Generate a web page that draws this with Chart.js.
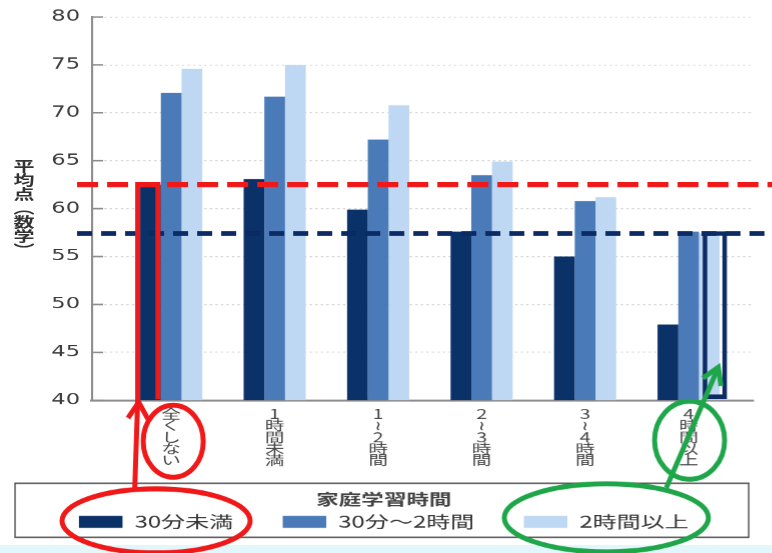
<!DOCTYPE html>
<html lang="ja">
<head>
<meta charset="utf-8">
<title>家庭学習時間別 平均点（数学）</title>
<script src="https://cdn.jsdelivr.net/npm/chart.js@4.4.1/dist/chart.umd.min.js"></script>
<style>
  html, body { margin: 0; padding: 0; background: #fff; }
  body { position: relative; width: 772px; height: 553px; overflow: hidden; }
  .floor { position: absolute; left: 0; right: 0; bottom: 0; height: 8px; background: #e2f7fb; }
  /* the chart is laid out 1.5x narrower and then widened, giving the broad lettering */
  #stage { position: absolute; left: 0; top: 0; width: 515px; height: 553px; transform: scaleX(1.5); transform-origin: 0 0; }
  #stage canvas { display: block; }
  .y-title { position: absolute; left: 9px; top: 159px; margin: 0; writing-mode: vertical-rl; text-orientation: mixed;
             font: bold 14px 'Noto Sans CJK JP', sans-serif; color: #333; line-height: 1; }
</style>
</head>
<body>
<div class="floor"></div>
<div id="stage">
  <canvas id="chart" width="515" height="553"></canvas>
  <div class="y-title" id="yTitle"></div>
</div>
<script>
// 家庭学習時間（カテゴリ）と学習時間帯ごとの数学の平均点
const categories = ['全くしない', '1時間未満', '1〜2時間', '2〜3時間', '3〜4時間', '4時間以上'];
const seriesNames = ['30分未満', '30分～2時間', '2時間以上'];
const under30min    = [62.5, 63.1, 59.9, 57.6, 55.0, 47.9];
const from30minTo2h = [72.1, 71.7, 67.2, 63.5, 60.8, 57.6];
const over2h        = [74.6, 75.0, 70.8, 64.9, 61.2, 57.4];
const yTicks = [40, 45, 50, 55, 60, 65, 70, 75, 80];
const legendTitle = '家庭学習時間';
const yTitle = '平均点（数学）';

document.getElementById('yTitle').textContent = yTitle;

const SX = 1.5;                       // horizontal widening applied to #stage
const CJK = "'Noto Sans CJK JP', 'DejaVu Sans', sans-serif";
const COLORS = ['#0b3169', '#4a7ab8', '#bed7f2'];
const RED = '#f01919', GREEN = '#1fa64a', NAVY = '#0c2a63';

// category names are set one character per line; the wave dash turns upright
const stacked = label => Array.from(label).map(ch => (ch === '〜' ? '≀' : ch));

const seriesValues = [under30min, from30minTo2h, over2h];
const datasets = seriesNames.map((name, s) => ({
  label: name,
  data: seriesValues[s].map((v, i) => ({ x: i, y: v })),
  backgroundColor: COLORS[s],
  borderWidth: 0,
  categoryPercentage: 0.6,
  barPercentage: 1.0
}));

function ellipse(ctx, cx, cy, rx, ry, color) {
  ctx.beginPath();
  ctx.ellipse(cx, cy, rx, ry, 0, 0, Math.PI * 2);
  ctx.strokeStyle = color;
  ctx.lineWidth = 5;
  ctx.stroke();
}

function arrowHead(ctx, fromX, fromY, tipX, tipY, color) {
  const ang = Math.atan2(fromY - tipY, fromX - tipX);
  const len = 19, spread = 0.55;
  ctx.beginPath();
  ctx.moveTo(tipX + len * Math.cos(ang - spread), tipY + len * Math.sin(ang - spread));
  ctx.lineTo(tipX, tipY);
  ctx.lineTo(tipX + len * Math.cos(ang + spread), tipY + len * Math.sin(ang + spread));
  ctx.strokeStyle = color;
  ctx.lineWidth = 5;
  ctx.lineJoin = 'miter';
  ctx.stroke();
}

function dashedLine(ctx, py, x0, x1, color, dash) {
  ctx.save();
  ctx.setLineDash(dash);
  ctx.strokeStyle = color;
  ctx.lineWidth = 5;
  ctx.beginPath();
  ctx.moveTo(x0, py);
  ctx.lineTo(x1, py);
  ctx.stroke();
  ctx.restore();
}

// inner axis ticks, legend frame, guide lines and hand-drawn style callouts
const callouts = {
  id: 'callouts',
  afterDraw(chart) {
    const { ctx, chartArea: area, scales: { x, y }, legend } = chart;
    const X = v => v * SX;
    const floor = area.bottom;
    ctx.save();
    ctx.scale(1 / SX, 1);            // page pixels, so strokes stay even once widened

    ctx.strokeStyle = '#8d8d8d';
    ctx.lineWidth = 1.5;
    y.ticks.forEach(t => {
      const py = y.getPixelForValue(t.value);
      ctx.beginPath();
      ctx.moveTo(X(area.left), py);
      ctx.lineTo(X(area.left) + 11, py);
      ctx.stroke();
    });

    ctx.strokeStyle = '#4d4d4d';
    ctx.lineWidth = 1.4;
    ctx.strokeRect(X(legend.left), legend.top - 3.5, X(legend.right) - X(legend.left) - 4, 54);

    const low = chart.getDatasetMeta(0).data[0];
    const high = chart.getDatasetMeta(2).data[5];
    const pageRight = X(chart.width);
    const guideStart = X(area.left) - 15;

    dashedLine(ctx, low.y, guideStart, pageRight, RED, [21, 9]);
    dashedLine(ctx, high.y, guideStart, pageRight, NAVY, [15, 9]);

    const boxes = legend.legendHitBoxes;
    const item = i => ({ cx: X(boxes[i].left + boxes[i].width / 2), cy: boxes[i].top + boxes[i].height / 2 });
    const labelY = floor + 41;

    // 全くしない / 30分未満
    const redItem = item(0);
    const redTop = redItem.cy - 33;
    const l = X(low.x - low.width / 2) - 2.5;
    const r = X(low.x + low.width / 2) - 3;
    ctx.strokeStyle = RED;
    ctx.lineWidth = 5;
    ctx.lineJoin = 'miter';
    ctx.beginPath();
    ctx.moveTo(r, floor - 1);
    ctx.lineTo(r, low.y);
    ctx.lineTo(l, low.y);
    ctx.lineTo(l, floor);
    ctx.lineTo(l - 3, redTop + 2);
    ctx.stroke();
    arrowHead(ctx, l - 3, redTop, l + 1, floor + 2, RED);
    ellipse(ctx, X(x.getPixelForValue(0)) + 2, labelY, 30, 36, RED);
    ellipse(ctx, redItem.cx, redItem.cy - 1, 94, 32, RED);

    // 4時間以上 / 2時間以上
    ctx.strokeStyle = NAVY;
    ctx.lineWidth = 4.5;
    const hl = X(high.x - high.width / 2) + 6;
    const hr = X(high.x + high.width / 2) + 5;
    ctx.strokeRect(hl, high.y, hr - hl, floor - 3.5 - high.y);

    const greenItem = item(2);
    ellipse(ctx, X(x.getPixelForValue(5)) + 1, labelY - 1, 35, 39, GREEN);
    ellipse(ctx, greenItem.cx, greenItem.cy - 4, 102, 34, GREEN);
    const sx = greenItem.cx + 60, sy = greenItem.cy - 34;
    const tx = X(high.x) + 9, ty = floor - 33;
    ctx.strokeStyle = GREEN;
    ctx.lineWidth = 5;
    ctx.beginPath();
    ctx.moveTo(sx, sy);
    ctx.lineTo(tx, ty);
    ctx.stroke();
    arrowHead(ctx, sx, sy, tx, ty, GREEN);

    ctx.restore();
  }
};

new Chart(document.getElementById('chart'), {
  type: 'bar',
  data: { datasets },
  options: {
    responsive: false,
    devicePixelRatio: SX,
    animation: false,
    events: [],
    layout: { padding: { left: 10, right: 13.5, top: 14, bottom: 13.5 } },
    scales: {
      x: {
        type: 'linear',
        min: -0.765,
        max: 5.62,
        offset: false,
        grid: { display: false, drawTicks: false, offset: false },
        border: { display: true, color: '#8d8d8d', width: 2 },
        afterBuildTicks: s => { s.ticks = categories.map((_, i) => ({ value: i })); },
        afterFit: s => { s.height = 86.5; },
        ticks: {
          autoSkip: false,
          maxRotation: 0,
          minRotation: 0,
          padding: 8,
          color: '#444',
          font: { family: CJK, size: 13, lineHeight: '11.5px' },
          callback: v => stacked(categories[v])
        }
      },
      y: {
        min: 40,
        max: 80,
        afterBuildTicks: s => { s.ticks = yTicks.map(v => ({ value: v })); },
        afterFit: s => { s.width = 51.33; },
        grid: { color: '#d3d3d3', lineWidth: 1, drawTicks: false },
        border: { display: true, color: '#8d8d8d', width: 1.4, dash: [1.5, 2.2] },
        ticks: { padding: 8, color: '#3b3b3b', font: { family: "'DejaVu Sans', sans-serif", size: 15 } }
      }
    },
    plugins: {
      tooltip: { enabled: false },
      legend: {
        position: 'bottom',
        align: 'center',
        labels: {
          boxWidth: 29,
          boxHeight: 12,
          padding: 33,
          color: '#333',
          font: { family: CJK, size: 16 }
        },
        title: {
          display: true,
          text: legendTitle,
          color: '#444',
          font: { family: CJK, size: 15, weight: 'bold' },
          padding: { top: 5, bottom: -29 }
        }
      }
    }
  },
  plugins: [callouts]
});
</script>
</body>
</html>
